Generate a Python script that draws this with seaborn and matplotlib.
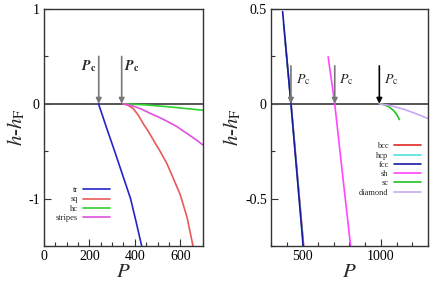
import matplotlib
matplotlib.use("Agg")
import matplotlib.pyplot as plt
import numpy as np
import pandas as pd
import seaborn as sns
from matplotlib.ticker import MultipleLocator, FuncFormatter

# ---------------- donnees ----------------
# panneau gauche (2D)
tr_P = [240, 275, 311, 346, 381, 406, 430]
tr_h = [0, -0.25, -0.5, -0.75, -1.0, -1.25, -1.5]
sq_P = [348, 370, 393, 415, 437, 459, 481, 511, 541, 570, 600, 630, 656]
sq_h = [0, -0.015, -0.05, -0.12, -0.21, -0.29, -0.38, -0.50, -0.63, -0.79, -0.96, -1.2, -1.5]
hc_P = [360, 450, 550, 700]
hc_h = [0, -0.012, -0.032, -0.068]
stripes_P = [348, 375, 400, 433, 467, 500, 530, 558, 585, 612, 640, 670, 700]
stripes_h = [0, -0.012, -0.03, -0.06, -0.10, -0.135, -0.17, -0.205, -0.24, -0.285, -0.33, -0.38, -0.435]
pc_left = [241, 342]

# panneau droit (3D)
bcc_P = [388, 428, 468, 508]
bcc_h = [0.35, 0, -0.375, -0.75]
hcp_P = [380, 427, 467, 506]
hcp_h = [0.42, 0, -0.375, -0.75]
fcc_P = [374, 427, 466, 505]
fcc_h = [0.486, 0, -0.375, -0.75]
sh_P = [664, 706, 756, 807]
sh_h = [0.248, 0, -0.375, -0.75]
sc_P = [990, 1020, 1050, 1080, 1100, 1118]
sc_h = [0, -0.005, -0.015, -0.035, -0.055, -0.083]
diamond_P = [990, 1050, 1100, 1150, 1200, 1250, 1300]
diamond_h = [0, -0.008, -0.018, -0.03, -0.045, -0.061, -0.078]
pc_right = [427, 706, 990]

left_names = ['tr', 'sq', 'hc', 'stripes']
left_colors = ['#2424c8', '#e85a5a', '#30d030', '#e050e0']
right_names = ['bcc', 'hcp', 'fcc', 'sh', 'sc', 'diamond']
right_colors = ['#e02828', '#50e0e0', '#1a1aa0', '#ff45ff', '#22c022', '#c8a8f0']

# tables longues pour seaborn
left_df = pd.concat([
    pd.DataFrame({'P': p, 'h': h, 'phase': n})
    for n, p, h in zip(left_names, [tr_P, sq_P, hc_P, stripes_P],
                       [tr_h, sq_h, hc_h, stripes_h])])
right_df = pd.concat([
    pd.DataFrame({'P': p, 'h': h, 'phase': n})
    for n, p, h in zip(right_names, [bcc_P, hcp_P, fcc_P, sh_P, sc_P, diamond_P],
                       [bcc_h, hcp_h, fcc_h, sh_h, sc_h, diamond_h])])

# ---------------- style ----------------
sns.set_style("ticks")
plt.rcParams['font.family'] = ['Liberation Serif', 'DejaVu Serif']
plt.rcParams['mathtext.fontset'] = 'stix'
plt.rcParams['axes.edgecolor'] = '#333333'
plt.rcParams['axes.linewidth'] = 1.0

fig = plt.figure(figsize=(4.31, 2.84), dpi=100)
ax1 = fig.add_axes([44/431, 38/284, 159/431, 237/284])
ax2 = fig.add_axes([271/431, 38/284, 157/431, 237/284])


def habiller(ax):
    ax.axhline(0, color='#555555', lw=1.4, zorder=1)
    ax.tick_params(which='both', direction='in', labelsize=10, pad=3,
                   colors='#333333', labelcolor='black')
    ax.tick_params(which='major', length=5, width=0.8)
    ax.tick_params(which='minor', length=3, width=0.8)
    ax.set_xlabel(r'$P$', fontsize=15, labelpad=0)
    ax.set_ylabel(r'$h$-$h_\mathrm{F}$', fontsize=15, labelpad=1)
    ax.yaxis.set_major_formatter(FuncFormatter(lambda v, p: '%g' % v))


# ===== panneau gauche =====
sns.lineplot(data=left_df, x='P', y='h', hue='phase', palette=left_colors,
             hue_order=left_names, sort=False, lw=1.2, ax=ax1, estimator=None)
habiller(ax1)
ax1.set_xlim(0, 700)
ax1.set_ylim(-1.5, 1)
ax1.xaxis.set_major_locator(MultipleLocator(200))
ax1.xaxis.set_minor_locator(MultipleLocator(50))
ax1.yaxis.set_major_locator(MultipleLocator(1))
ax1.yaxis.set_minor_locator(MultipleLocator(0.5))

for x in pc_left:
    ax1.annotate('', xy=(x, 0), xytext=(x, 0.5),
                 arrowprops=dict(arrowstyle='-|>', color='#777777', lw=1.2,
                                 mutation_scale=8, shrinkA=0, shrinkB=0))
ax1.text(pc_left[0] - 12, 0.4, r'$\mathbfit{P}_\mathbf{c}$', fontsize=10,
         ha='right', va='center')
ax1.text(pc_left[1] + 12, 0.4, r'$\mathbfit{P}_\mathbf{c}$', fontsize=10,
         ha='left', va='center')

h, l = ax1.get_legend_handles_labels()
ax1.legend(h, l, loc='center', bbox_to_anchor=(0.245, 0.177), frameon=False,
           markerfirst=False, fontsize=6, handlelength=3.3, handletextpad=0.6,
           labelspacing=0.15, borderpad=0)

# ===== panneau droit =====
sns.lineplot(data=right_df, x='P', y='h', hue='phase', palette=right_colors,
             hue_order=right_names, sort=False, lw=1.2, ax=ax2, estimator=None)
habiller(ax2)
ax2.set_xlim(300, 1300)
ax2.set_ylim(-0.75, 0.5)
ax2.xaxis.set_major_locator(MultipleLocator(500))
ax2.xaxis.set_minor_locator(MultipleLocator(100))
ax2.yaxis.set_major_locator(MultipleLocator(0.5))
ax2.yaxis.set_minor_locator(MultipleLocator(0.25))

for i, x in enumerate(pc_right):
    col = 'black' if i == 2 else '#777777'
    ax2.annotate('', xy=(x, 0), xytext=(x, 0.2),
                 arrowprops=dict(arrowstyle='-|>', color=col, lw=1.2,
                                 mutation_scale=8, shrinkA=0, shrinkB=0))
    ax2.text(x + 30, 0.125, r'$P_\mathrm{c}$', fontsize=10, ha='left', va='center')

h, l = ax2.get_legend_handles_labels()
ax2.legend(h, l, loc='center', bbox_to_anchor=(0.758, 0.323), frameon=False,
           markerfirst=False, fontsize=6, handlelength=3.3, handletextpad=0.6,
           labelspacing=0.15, borderpad=0)

fig.savefig('out.png', dpi=100)
